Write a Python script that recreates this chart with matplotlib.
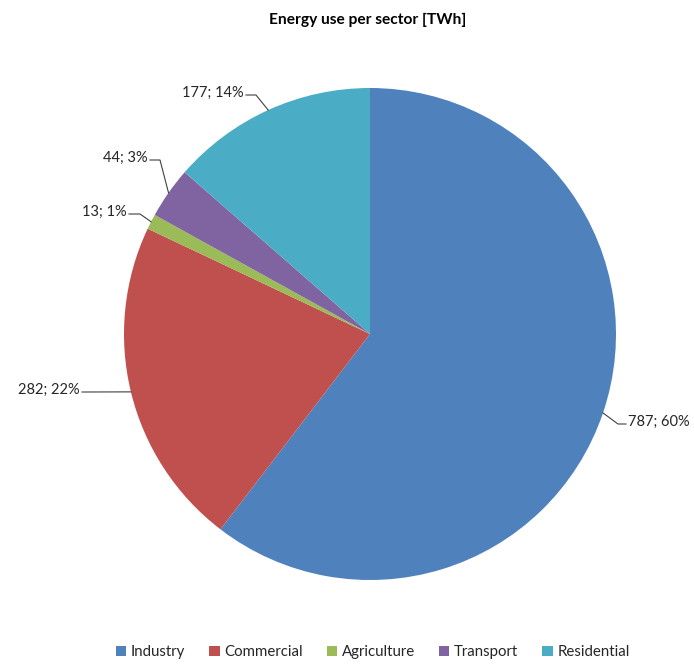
import numpy as np
import matplotlib.pyplot as plt
from matplotlib.patches import Patch

plt.rcParams['font.family'] = ['Lato', 'DejaVu Sans']

# data
sectors = ['Industry', 'Commercial', 'Agriculture', 'Transport', 'Residential']
energy = [787, 282, 13, 44, 177]
colors = ['#4F81BD', '#C0504D', '#9BBB59', '#8064A2', '#4BACC6']

# label placement (pixel coords, y up) : text anchor, elbow, alignment
label_pos = [(628, 248), (80, 280), (127, 458), (148, 512), (244, 577)]
elbows = [(618, 248), (86, 280), (140, 458), (160, 512), (256, 577)]
aligns = ['left', 'right', 'right', 'right', 'right']

W, H = 694, 672
cx, cy, R = 370, 338, 246

fig = plt.figure(figsize=(W / 100, H / 100), dpi=100)
ax = fig.add_axes([0, 0, 1, 1])

ax.pie(energy, colors=colors, startangle=90, counterclock=False,
       center=(cx, cy), radius=R, wedgeprops=dict(linewidth=0),
       frame=True)
ax.set_xlim(0, W)
ax.set_ylim(0, H)
ax.set_aspect('equal')
ax.axis('off')

total = sum(energy)
cum = 0
for i, v in enumerate(energy):
    mid = cum + v / 2
    cum += v
    ang = np.deg2rad(90 - mid / total * 360)
    ex, ey = cx + R * np.cos(ang), cy + R * np.sin(ang)
    tx, ty = label_pos[i]
    bx, by = elbows[i]
    ax.plot([tx + (-2 if aligns[i] == 'left' else 2), bx, ex], [ty, by, ey],
            color='#404040', lw=0.8)
    ax.text(tx, ty + 2, f"{v}; {round(v / total * 100)}%", ha=aligns[i],
            va='center', fontsize=10.5, color='#262626')

ax.text(368, H - 20, 'Energy use per sector [TWh]', ha='center', va='center',
        fontsize=11.2, fontweight='bold', color='black')

handles = [Patch(facecolor=c, label=s) for c, s in zip(colors, sectors)]
fig.legend(handles=handles, loc='center', bbox_to_anchor=(0.537, 1 - 652 / H),
           ncol=5, frameon=False, fontsize=10.8, handlelength=0.7,
           handleheight=0.7, handletextpad=0.3, columnspacing=1.6,
           labelcolor='#262626')

fig.savefig('out.png', dpi=100)
